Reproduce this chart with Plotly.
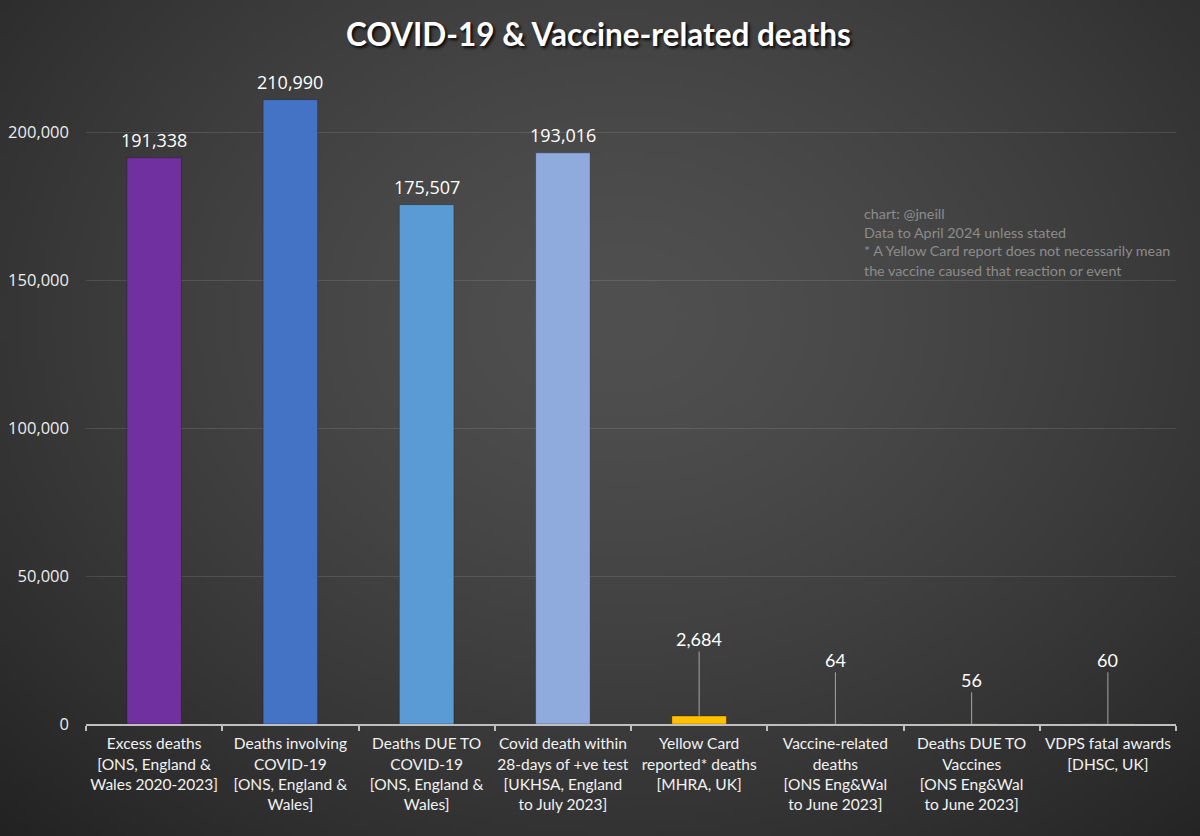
import base64, struct, zlib
import numpy as np
import plotly.graph_objects as go

# ---------------- data ----------------
categories = [
    "Excess deaths<br>[ONS, England &<br>Wales 2020-2023]",
    "Deaths involving<br>COVID-19<br>[ONS, England &<br>Wales]",
    "Deaths DUE TO<br>COVID-19<br>[ONS, England &<br>Wales]",
    "Covid death within<br>28-days of +ve test<br>[UKHSA, England<br>to July 2023]",
    "Yellow Card<br>reported* deaths<br>[MHRA, UK]",
    "Vaccine-related<br>deaths<br>[ONS Eng&Wal<br>to June 2023]",
    "Deaths DUE TO<br>Vaccines<br>[ONS Eng&Wal<br>to June 2023]",
    "VDPS fatal awards<br>[DHSC, UK]",
]
values = [191338, 210990, 175507, 193016, 2684, 64, 56, 60]
bar_colors = ["#7030A0", "#4472C4", "#5B9BD5", "#8FAADC", "#FFC000",
              "#D6C8A8", "#D6C8A8", "#D6C8A8"]
callout_offsets = [0, 0, 0, 0, -77, -64, -44, -64]  # label offset (px) for small bars
y_ticks = [0, 50000, 100000, 150000, 200000]
notes = [
    "chart: @jneill",
    "Data to April 2024 unless stated",
    "* A Yellow Card report does not necessarily mean",
    "the vaccine caused that reaction or event",
]
title = "COVID-19 & Vaccine-related deaths"

# ---------------- layout geometry ----------------
W, H = 1200, 836
ML, MR, MT, MB = 86, 24, 73, 112
PW, PH = W - ML - MR, H - MT - MB
YMAX = 220000

def py(px):  # pixel y -> paper y
    return (H - MB - px) / PH

def pxx(px):
    return (px - ML) / PW

# ---------------- background gradient (decorative) ----------------
gw, gh = 240, 168
xx, yy = np.meshgrid(np.linspace(0, 1, gw), np.linspace(0, 1, gh))
d = np.sqrt(((xx - 0.52) / 0.75) ** 2 + ((yy - 0.38) / 0.85) ** 2)
img = 80 - 45 * np.clip(d, 0, 1.2) ** 1.4
img = np.clip(img, 30, 82).astype(np.uint8)
raw = b"".join(b"\x00" + row.tobytes() for row in img)
def chunk(t, data):
    c = struct.pack(">I", len(data)) + t + data
    return c + struct.pack(">I", zlib.crc32(t + data) & 0xffffffff)
png = (b"\x89PNG\r\n\x1a\n" + chunk(b"IHDR", struct.pack(">IIBBBBB", gw, gh, 8, 0, 0, 0, 0))
       + chunk(b"IDAT", zlib.compress(raw, 9)) + chunk(b"IEND", b""))
bg_uri = "data:image/png;base64," + base64.b64encode(png).decode()

fig = go.Figure()
fig.add_trace(go.Bar(
    x=categories, y=values,
    marker=dict(color=bar_colors, line=dict(color="rgba(0,0,0,0.25)", width=1)),
    width=0.4, hoverinfo="x+y",
))

annotations = []
for c, v, off in zip(categories, values, callout_offsets):
    if off == 0:
        annotations.append(dict(
            x=c, y=v, xref="x", yref="y", text=f"{v:,}", showarrow=False,
            yanchor="bottom", yshift=4,
            font=dict(family="Open Sans", size=18, color="#FFFFFF")))
    else:
        annotations.append(dict(
            x=c, y=v, xref="x", yref="y", text=f"{v:,}", showarrow=True,
            arrowhead=0, arrowwidth=1, arrowcolor="#A6A6A6", ax=0, ay=off,
            standoff=0, startstandoff=0,
            font=dict(family="Lato", size=18, color="#FFFFFF")))

annotations.append(dict(
    x=pxx(598), xref="paper", y=py(34), yref="paper", text=f"<b>{title}</b>",
    showarrow=False, xanchor="center", yanchor="middle",
    font=dict(family="Lato", size=31.5, color="#FFFFFF",
              shadow="2px 2px 3px rgba(0,0,0,0.9)")))

for i, line in enumerate(notes):
    annotations.append(dict(
        x=pxx(862), xref="paper", y=py(213 + 19 * i), yref="paper", text=line,
        showarrow=False, xanchor="left", yanchor="middle",
        font=dict(family="Lato", size=14.3, color="#8C8C8C")))

fig.update_layout(
    width=W, height=H,
    margin=dict(l=ML, r=MR, t=MT, b=MB, autoexpand=False),
    paper_bgcolor="#3a3a3a", plot_bgcolor="rgba(0,0,0,0)",
    showlegend=False, bargap=0.6,
    annotations=annotations,
    images=[dict(source=bg_uri, xref="paper", yref="paper",
                 x=-ML / PW, y=(H - MB) / PH, sizex=W / PW, sizey=H / PH,
                 xanchor="left", yanchor="top", sizing="stretch", layer="below")],
    xaxis=dict(
        type="category", showline=True, linecolor="#BFBFBF", linewidth=1.5,
        ticks="outside", tickson="boundaries", ticklen=5, tickcolor="#BFBFBF",
        tickwidth=1.5, showgrid=False, tickangle=0, automargin=False,
        ticklabelstandoff=5,
        tickfont=dict(family="Lato", size=15.5, color="#F2F2F2"),
    ),
    yaxis=dict(
        range=[0, YMAX], tickvals=y_ticks, ticktext=[f"{t:,}" for t in y_ticks],
        showgrid=True, gridcolor="rgba(255,255,255,0.11)", gridwidth=1,
        zeroline=False, showline=False, ticks="", ticklabelstandoff=16,
        automargin=False,
        tickfont=dict(family="Open Sans", size=16.5, color="#EDEDED"),
    ),
)

fig.write_html("out.html")
